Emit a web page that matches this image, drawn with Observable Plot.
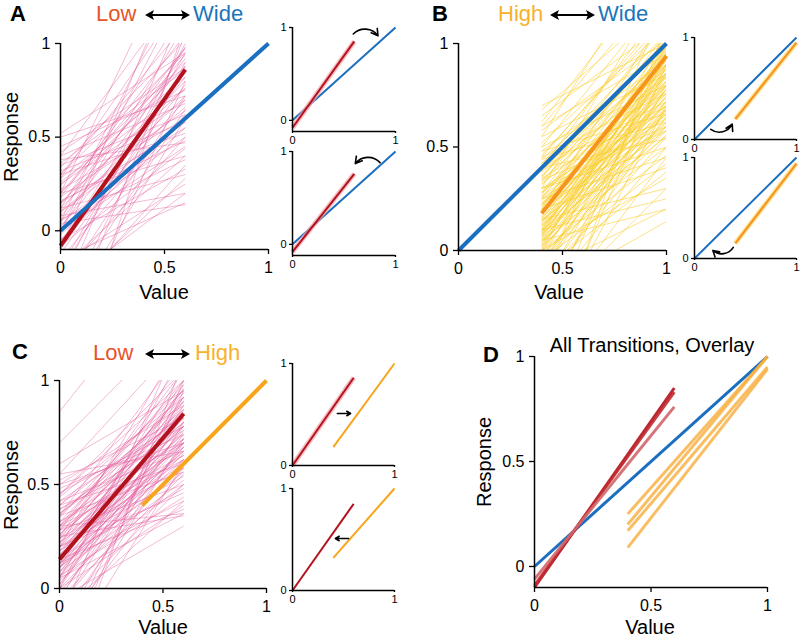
<!DOCTYPE html>
<html><head><meta charset="utf-8">
<script src="https://cdn.jsdelivr.net/npm/d3@7"></script>
<script src="https://cdn.jsdelivr.net/npm/@observablehq/plot@0.6"></script>
<style>
html,body{margin:0;padding:0;background:#fff;}
#fig{position:relative;width:800px;height:644px;font-family:"Liberation Sans",Arial,sans-serif;color:#000;overflow:hidden;background:#fff}
.t{position:absolute;white-space:nowrap;line-height:1}
</style></head><body><div id="fig"></div>
<script>
// ---------------- DATA ----------------
const xTicksMain = [0, 0.5, 1];
const yTicksMain = [0, 0.5, 1];
const ticksInset = [0, 1];

// individual subject fits, Low range (x 0 -> 0.6): [y at x=0, y at x=0.6]
const lowSubjectsA = [
[-0.35,1.20],[0.05,1.40],[0.20,1.60],[-0.20,0.95],[0.10,0.98],[0.30,1.10],[0.45,0.75],[0.52,0.95],[0.40,1.30],[-0.05,0.60],
[0.15,0.55],[0.00,0.45],[-0.25,0.50],[-0.30,0.20],[-0.15,0.15],[-0.40,0.35],[0.25,0.70],[0.35,0.62],[0.20,0.88],[0.12,0.80],
[0.08,0.72],[-0.10,0.85],[-0.45,0.90],[-0.60,1.05],[0.30,0.95],[0.18,1.05],[0.05,0.92],[-0.12,0.78],[0.22,0.60],[0.28,0.82],
[0.40,0.68],[0.10,0.66],[-0.02,0.55],[0.16,0.48],[-0.20,0.40],[-0.35,0.28],[0.06,0.38],[0.20,0.40],[0.30,0.52],[-0.08,0.98],
[0.00,1.10],[-0.25,1.00],[0.14,0.94],[0.24,0.90],[0.34,1.02],[0.42,0.87],[-0.50,0.60],[-0.70,0.80],[-0.30,0.72],[0.02,0.82],
[0.10,0.58],[-0.05,0.70],[0.26,0.76],[0.18,0.64],[-0.15,0.62],[0.05,0.50],[0.32,0.58],[0.12,0.30],[-0.18,0.25],[0.08,0.20],
[-0.90,1.10],[0.00,1.30],[-0.10,1.50],[0.15,0.76],[0.36,0.86],[0.20,0.97],[-0.40,0.65],[0.28,1.25],[0.04,0.14],[-0.05,0.33],
[0.38,0.47],[0.50,0.72],[-0.22,0.88],[0.12,1.18],[-0.08,0.44]
];
// individual subject fits, High range (x 0.4 -> 1): [y at x=0.4, y at x=1]
const highSubjectsB = [
[0.70,1.00],[0.68,1.20],[0.65,1.10],[0.62,1.40],[0.60,1.30],[0.55,1.50],[0.50,1.25],[0.45,1.15],[0.42,1.05],[0.40,1.20],
[0.38,1.00],[0.35,1.10],[0.32,0.95],[0.30,1.30],[0.28,1.05],[0.25,1.00],[0.22,0.98],[0.20,0.95],[0.18,0.92],[0.15,0.90],
[0.12,0.88],[0.10,0.85],[0.08,0.82],[0.05,0.80],[0.02,0.78],[0.00,0.75],[-0.05,0.72],[-0.10,0.70],[-0.15,0.68],[-0.20,0.65],
[0.55,0.85],[0.50,0.80],[0.45,0.76],[0.40,0.72],[0.35,0.70],[0.30,0.68],[0.25,0.64],[0.20,0.60],[0.15,0.58],[0.10,0.55],
[0.05,0.50],[0.00,0.46],[-0.05,0.42],[-0.10,0.38],[0.60,0.95],[0.48,0.92],[0.44,0.98],[0.36,0.94],[0.34,0.88],[0.28,0.86],
[0.26,0.90],[0.24,0.82],[0.22,0.84],[0.18,0.80],[0.16,0.86],[0.14,0.78],[0.12,0.74],[0.10,0.96],[0.08,1.00],[0.06,0.92],
[0.04,0.88],[0.02,0.95],[0.00,1.05],[-0.04,1.00],[-0.08,0.94],[-0.12,0.90],[-0.18,0.86],[-0.25,0.80],[-0.30,0.95],[-0.40,1.00],
[0.30,0.50],[0.25,0.45],[0.20,0.40],[0.15,0.30],[0.10,0.25],[0.05,0.20],[0.00,0.35],[-0.10,0.20],[-0.20,0.14],[-0.30,0.30],
[0.58,1.02],[0.52,1.08],[0.46,1.12],[0.42,0.90],[0.38,0.84],[0.32,0.80],[0.28,0.76],[0.22,0.72],[0.18,0.70],[0.14,0.66],
[0.12,0.62],[0.08,0.60],[0.06,0.66],[0.04,0.62],[0.02,0.58],[-0.02,0.56],[-0.06,0.60],[-0.14,0.55],[-0.22,0.50],[-0.35,0.45],
[0.36,1.00],[0.33,1.02],[0.27,0.97],[0.21,0.93],[0.17,0.97],[0.13,0.94],[0.09,0.90],[0.07,0.86],[0.03,0.84],[-0.01,0.82],
[0.26,0.70],[0.23,0.66],[0.19,0.74],[0.16,0.68],[0.11,0.80],[0.09,0.76],[0.07,0.72],[0.01,0.68],[-0.03,0.64],[-0.07,0.78],
[0.48,0.66],[0.44,0.62],[0.40,0.54],[0.34,0.60],[0.30,0.58],[-0.50,0.90],[-0.60,1.10],[-0.45,0.70],[-0.15,1.20],[0.20,1.15]
];
// individual subject fits, Low range in Low<->High (x 0 -> 0.6)
const lowSubjectsC = [
[0.85,1.60],[0.70,1.30],[0.55,1.20],[0.45,1.05],[0.40,0.95],[0.35,0.90],[0.30,0.85],[0.25,0.80],[0.20,0.78],[0.15,0.75],
[0.10,0.70],[0.05,0.65],[0.00,0.60],[-0.05,0.55],[-0.10,0.50],[0.60,0.95],[0.50,0.88],[0.42,0.82],[0.38,0.76],[0.32,0.72],
[0.28,0.68],[0.22,0.64],[0.18,0.60],[0.12,0.56],[0.08,0.52],[0.30,1.00],[0.25,1.10],[0.20,1.20],[0.10,1.05],[0.05,0.98],
[0.00,0.92],[-0.05,0.88],[-0.10,0.84],[-0.20,0.80],[-0.30,0.95],[-0.40,1.00],[-0.50,1.10],[0.15,0.92],[0.22,0.96],[0.28,0.94],
[0.34,0.98],[0.45,1.00],[0.50,0.70],[0.55,0.66],[0.40,0.60],[0.35,0.56],[0.28,0.50],[0.20,0.46],[0.12,0.42],[0.05,0.36],
[-0.05,0.30],[0.25,0.35],[0.30,0.36],[0.15,0.48],[0.10,0.62],[0.18,0.70],[0.26,0.74],[0.08,0.80],[0.02,0.74],[-0.02,0.68],
[0.14,0.86],[0.20,0.88],[0.06,0.90],[0.12,1.00],[0.00,1.15],[-0.15,1.25],[0.30,0.80],[0.36,0.84],[0.24,0.70],[0.16,0.66],
[0.10,0.58],[0.04,0.50],[-0.08,0.62],[-0.15,0.70],[-0.25,0.72],[-0.35,0.60],[0.32,0.64],[0.38,0.70],[0.46,0.78],[0.52,0.82],
[0.44,0.92],[0.18,0.82],[0.22,0.78],[0.26,0.86],[0.08,0.72],[0.12,0.76],[0.02,0.84],[-0.04,0.78],[0.16,0.96],[0.28,1.05],
[0.35,1.15],[0.20,0.54],[0.14,0.38],[0.06,0.44],[0.00,0.40],[-0.12,0.42],[0.24,0.58],[0.30,0.62],[0.42,0.66],[0.48,0.74],
[0.06,0.68],[0.10,0.84],[0.24,0.90],[0.32,0.92],[0.16,0.72],[-0.20,0.58],[0.36,0.78],[0.40,0.86],[0.20,0.62],[0.12,0.66]
];

// group fits [x1, y1, x2, y2]
const wideFit      = [0, 0, 1, 1];
const lowFitA      = [0, -0.08, 0.6, 0.86];
const highFitB     = [0.4, 0.18, 1, 0.94];
const lowFitC      = [0, 0.14, 0.6, 0.84];
const highFitC     = [0.4, 0.40, 1, 1];
// insets
const lowFitAInset1  = [0, -0.08, 0.6, 0.85];
const lowFitAInset2  = [0, -0.08, 0.6, 0.76];
const highFitBInset1 = [0.4, 0.20, 1, 0.95];
const highFitBInset2 = [0.4, 0.15, 1, 0.94];
const lowFitCInset1  = [0, 0, 0.6, 0.86];
const highFitCInset1 = [0.4, 0.18, 1, 1];
const lowFitCInset2  = [0, 0, 0.6, 0.85];
const highFitCInset2 = [0.4, 0.32, 1, 1];
// transition arrows [x1, y1, x2, y2]
const arrowAInset1 = [0.59, 0.93, 0.83, 0.91];
const arrowAInset2 = [0.85, 0.88, 0.61, 0.87];
const arrowBInset1 = [0.16, 0.10, 0.37, 0.15];
const arrowBInset2 = [0.38, 0.11, 0.18, 0.08];
const arrowCInset1 = [0.44, 0.51, 0.57, 0.51];
const arrowCInset2 = [0.55, 0.51, 0.42, 0.51];
// overlay panel D
const overlayLow  = [[0,-0.10,0.6,0.85],[0,-0.09,0.6,0.83],[0,-0.06,0.6,0.76]];
const overlayLowColors = ["#b3121c", "#c02a30", "#d2666a"];
const overlayHigh = [[0.4,0.25,1,1.00],[0.4,0.20,1,1.00],[0.4,0.17,1,0.95],[0.4,0.09,1,0.94]];

// ---------------- STYLE ----------------
const FONT = '"Liberation Sans", Arial, sans-serif';
const BLUE = "#1b6fc0", DARKRED = "#b3121c", ORANGE = "#f7941d", ORANGE2 = "#f8a51c";
const PINK = "#e04f95", YELLOW = "#f9cd2a";
const LOWC = "#e8542a", HIGHC = "#f9b12a", WIDEC = "#1b75bc";

const fig = document.getElementById("fig");
const seg = (a) => [{x1: a[0], y1: a[1], x2: a[2], y2: a[3]}];
const subj = (arr, xa, xb) => arr.map(([a, b]) => ({x1: xa, y1: a, x2: xb, y2: b}));
const link = (a, o) => Plot.link(seg(a), {x1: "x1", y1: "y1", x2: "x2", y2: "y2", strokeLinecap: "butt", ...o});
const arrow = (a, bend) => Plot.arrow(seg(a), {x1: "x1", y1: "y1", x2: "x2", y2: "y2", bend, stroke: "#000", strokeWidth: 1.6, headLength: 7});

function panel({x0, x1, yTop, yBot, yDomain, xTicks, yTicks, fs, xt, yt, marks}) {
  const ml = 50, mr = 15, mt = 12, mb = 30;
  const width = ml + (x1 - x0) + mr;
  const height = mt + (yBot - yTop) + mb;
  const svg = Plot.plot({
    width, height, marginLeft: ml, marginRight: mr, marginTop: mt, marginBottom: mb,
    x: {domain: [0, 1]}, y: {domain: yDomain},
    style: {fontFamily: FONT, fontSize: fs + "px", background: "transparent", color: "#000", overflow: "visible"},
    marks: [
      ...marks,
      Plot.ruleX([0], {stroke: "#000", strokeWidth: 1.5}),
      Plot.ruleY([yDomain[0]], {stroke: "#000", strokeWidth: 1.5}),
      Plot.axisX({ticks: xTicks, tickFormat: d => String(d), tickSize: xt[0], tickPadding: xt[1], label: null, stroke: "#000", strokeWidth: 1.3, fill: "#000", fontSize: fs}),
      Plot.axisY({ticks: yTicks, tickFormat: d => String(d), tickSize: yt[0], tickPadding: yt[1], label: null, stroke: "#000", strokeWidth: 1.3, fill: "#000", fontSize: fs})
    ]
  });
  svg.style.position = "absolute";
  svg.style.left = (x0 - ml) + "px";
  svg.style.top = (yTop - mt) + "px";
  fig.appendChild(svg);
}

function txt(s, x, y, {size = 16, weight = "normal", color = "#000", anchor = "start", rotate = false} = {}) {
  const d = document.createElement("div");
  d.className = "t";
  d.textContent = s;
  d.style.fontSize = size + "px";
  d.style.fontWeight = weight;
  d.style.color = color;
  if (rotate) {
    d.style.left = x + "px"; d.style.top = y + "px";
    d.style.transform = "translate(-50%,-50%) rotate(-90deg)";
  } else {
    d.style.left = x + "px";
    d.style.top = (y - 0.847 * size) + "px";
    if (anchor === "middle") d.style.transform = "translateX(-50%)";
  }
  fig.appendChild(d);
}

function dblArrow(xa, xb, y) {
  const w = xb - xa, h = 12;
  const s = d3.create("svg").attr("width", w).attr("height", h)
    .style("position", "absolute").style("left", xa + "px").style("top", (y - h / 2) + "px");
  s.append("line").attr("x1", 3).attr("x2", w - 3).attr("y1", h / 2).attr("y2", h / 2).attr("stroke", "#000").attr("stroke-width", 1.8);
  s.append("path").attr("d", `M0,${h/2}L9,${h/2-5}L7,${h/2}L9,${h/2+5}Z`).attr("fill", "#000");
  s.append("path").attr("d", `M${w},${h/2}L${w-9},${h/2-5}L${w-7},${h/2}L${w-9},${h/2+5}Z`).attr("fill", "#000");
  fig.appendChild(s.node());
}

const thin = (arr, xa, xb, color, op) => Plot.link(subj(arr, xa, xb), {x1: "x1", y1: "y1", x2: "x2", y2: "y2", stroke: color, strokeWidth: 0.8, strokeOpacity: op, clip: true});

const MAIN = {fs: 16, xTicks: xTicksMain, yTicks: yTicksMain, xt: [5, 7], yt: [5, 5]};
const INSET = {fs: 11, xTicks: ticksInset, yTicks: ticksInset, xt: [2, 3], yt: [3, 3]};

// ---------------- PANEL A ----------------
panel({...MAIN, x0: 60, x1: 268, yTop: 43, yBot: 249, yDomain: [-0.1, 1], marks: [
  thin(lowSubjectsA, 0, 0.6, PINK, 0.5),
  link(lowFitA, {stroke: DARKRED, strokeWidth: 4}),
  link(wideFit, {stroke: BLUE, strokeWidth: 4})
]});
panel({...INSET, x0: 292, x1: 395, yTop: 27, yBot: 131, yDomain: [-0.12, 1], marks: [
  link(wideFit, {stroke: BLUE, strokeWidth: 2}),
  link(lowFitAInset1, {stroke: "#f4a3aa", strokeWidth: 5, strokeOpacity: 0.7}),
  link(lowFitAInset1, {stroke: DARKRED, strokeWidth: 2}),
  arrow(arrowAInset1, 50)
]});
panel({...INSET, x0: 292, x1: 395, yTop: 151, yBot: 255, yDomain: [-0.12, 1], marks: [
  link(wideFit, {stroke: BLUE, strokeWidth: 2}),
  link(lowFitAInset2, {stroke: "#f4a3aa", strokeWidth: 5, strokeOpacity: 0.7}),
  link(lowFitAInset2, {stroke: DARKRED, strokeWidth: 2}),
  arrow(arrowAInset2, -50)
]});

// ---------------- PANEL B ----------------
panel({...MAIN, x0: 458, x1: 666, yTop: 43, yBot: 250, yDomain: [0, 1], marks: [
  thin(highSubjectsB, 0.4, 1, YELLOW, 0.72),
  link(highFitB, {stroke: ORANGE, strokeWidth: 4}),
  link(wideFit, {stroke: BLUE, strokeWidth: 4})
]});
panel({...INSET, x0: 694, x1: 796, yTop: 37, yBot: 139, yDomain: [0, 1], marks: [
  link(wideFit, {stroke: BLUE, strokeWidth: 2}),
  link(highFitBInset1, {stroke: "#fde08a", strokeWidth: 5, strokeOpacity: 0.8}),
  link(highFitBInset1, {stroke: ORANGE, strokeWidth: 2.2}),
  arrow(arrowBInset1, -50)
]});
panel({...INSET, x0: 694, x1: 796, yTop: 157, yBot: 258, yDomain: [0, 1], marks: [
  link(wideFit, {stroke: BLUE, strokeWidth: 2}),
  link(highFitBInset2, {stroke: "#fde08a", strokeWidth: 5, strokeOpacity: 0.8}),
  link(highFitBInset2, {stroke: ORANGE, strokeWidth: 2.2}),
  arrow(arrowBInset2, 50)
]});

// ---------------- PANEL C ----------------
panel({...MAIN, x0: 59, x1: 266, yTop: 380, yBot: 588, yDomain: [0, 1], marks: [
  thin(lowSubjectsC, 0, 0.6, PINK, 0.5),
  link(lowFitC, {stroke: DARKRED, strokeWidth: 4}),
  link(highFitC, {stroke: ORANGE2, strokeWidth: 4})
]});
panel({...INSET, x0: 292, x1: 394, yTop: 363, yBot: 465, yDomain: [0, 1], marks: [
  link(lowFitCInset1, {stroke: "#f4a3aa", strokeWidth: 5, strokeOpacity: 0.7}),
  link(lowFitCInset1, {stroke: DARKRED, strokeWidth: 2}),
  link(highFitCInset1, {stroke: ORANGE2, strokeWidth: 2}),
  arrow(arrowCInset1, 0)
]});
panel({...INSET, x0: 292, x1: 394, yTop: 488, yBot: 590, yDomain: [0, 1], marks: [
  link(lowFitCInset2, {stroke: DARKRED, strokeWidth: 2}),
  link(highFitCInset2, {stroke: ORANGE2, strokeWidth: 2}),
  arrow(arrowCInset2, 0)
]});

// ---------------- PANEL D ----------------
panel({...MAIN, x0: 534, x1: 767, yTop: 356, yBot: 587, yDomain: [-0.1, 1], marks: [
  link(wideFit, {stroke: BLUE, strokeWidth: 3}),
  ...overlayLow.map((a, i) => link(a, {stroke: overlayLowColors[i], strokeWidth: 3, strokeOpacity: 0.9})),
  ...overlayHigh.map(a => link(a, {stroke: "#f8ae3c", strokeWidth: 3, strokeOpacity: 0.8}))
]});

// ---------------- TEXT ----------------
txt("A", 10, 22, {size: 22, weight: "bold"});
txt("B", 432, 22, {size: 22, weight: "bold"});
txt("C", 12, 360, {size: 22, weight: "bold"});
txt("D", 483, 363, {size: 22, weight: "bold"});

txt("Low", 96, 22, {size: 22, color: LOWC});
dblArrow(145, 190, 15);
txt("Wide", 193, 22, {size: 22, color: WIDEC});

txt("High", 498, 22, {size: 22, color: HIGHC});
dblArrow(550, 595, 15);
txt("Wide", 598, 22, {size: 22, color: WIDEC});

txt("Low", 93, 361, {size: 22, color: LOWC});
dblArrow(145, 190, 354);
txt("High", 195, 361, {size: 22, color: HIGHC});

txt("All Transitions, Overlay", 652, 352, {size: 20, anchor: "middle"});

txt("Value", 164, 299, {size: 20, anchor: "middle"});
txt("Value", 559, 299, {size: 20, anchor: "middle"});
txt("Value", 163, 634, {size: 20, anchor: "middle"});
txt("Value", 650, 634, {size: 20, anchor: "middle"});
txt("Response", 11, 137, {size: 20, rotate: true});
txt("Response", 11, 485, {size: 20, rotate: true});
txt("Response", 484, 462, {size: 20, rotate: true});
</script></body></html>
